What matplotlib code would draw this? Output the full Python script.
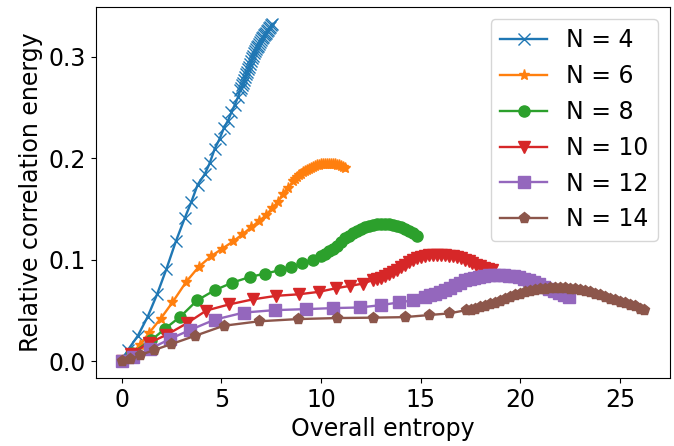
import matplotlib
matplotlib.use("Agg")
import matplotlib.pyplot as plt

# entropia total vs energia de correlacion relativa para cada N
x_n4 = [0, 0.30, 0.80, 1.30, 1.77, 2.24, 2.71, 3.16, 3.49, 3.81, 4.16, 4.41, 4.66, 4.91,
        5.13, 5.33, 5.50, 5.66, 5.83, 5.95, 6.00, 6.05, 6.10, 6.15, 6.20, 6.25, 6.30,
        6.35, 6.40, 6.45, 6.50, 6.55, 6.60, 6.65, 6.70, 6.75, 6.80, 6.85, 6.90, 6.95,
        7.00, 7.05, 7.10, 7.15, 7.20, 7.25, 7.30, 7.35, 7.40, 7.45, 7.50, 7.55]
y_n4 = [0, 0.011, 0.025, 0.044, 0.066, 0.091, 0.118, 0.141, 0.157, 0.174, 0.184, 0.195,
        0.209, 0.219, 0.230, 0.237, 0.245, 0.252, 0.260, 0.267, 0.269, 0.272, 0.274,
        0.277, 0.280, 0.283, 0.285, 0.288, 0.290, 0.293, 0.296, 0.299, 0.301, 0.303,
        0.305, 0.307, 0.309, 0.310, 0.312, 0.314, 0.316, 0.318, 0.319, 0.321, 0.322,
        0.323, 0.325, 0.326, 0.328, 0.329, 0.331, 0.332]

x_n6 = [0, 0.45, 0.90, 1.37, 1.95, 2.54, 3.24, 3.86, 4.49, 5.05, 5.58, 6.05, 6.50, 6.88,
        7.25, 7.55, 7.84, 8.09, 8.34, 8.6, 8.7, 8.8, 8.9, 9.0, 9.1, 9.2, 9.3, 9.4, 9.5,
        9.6, 9.7, 9.8, 9.9, 10.0, 10.1, 10.2, 10.3, 10.4, 10.5, 10.6, 10.7, 10.8, 10.9,
        11.0, 11.1, 11.2]
y_n6 = [0, 0.007, 0.016, 0.028, 0.042, 0.058, 0.0785, 0.093, 0.1036, 0.111, 0.118, 0.125,
        0.132, 0.138, 0.144, 0.151, 0.157, 0.165, 0.171, 0.177, 0.179, 0.181, 0.183,
        0.184, 0.186, 0.187, 0.188, 0.189, 0.190, 0.191, 0.192, 0.193, 0.193, 0.194,
        0.194, 0.194, 0.194, 0.194, 0.194, 0.194, 0.194, 0.193, 0.193, 0.192, 0.191,
        0.190]

x_n8 = [0, 0.50, 1.49, 2.16, 2.94, 3.78, 4.66, 5.55, 6.42, 7.17, 7.92, 8.51, 9.06, 9.59,
        10.0, 10.2, 10.4, 10.6, 10.8, 11.0, 11.2, 11.4, 11.6, 11.8, 12.0, 12.2, 12.4,
        12.6, 12.8, 13.0, 13.2, 13.4, 13.6, 13.8, 14.0, 14.2, 14.4, 14.6, 14.8]
y_n8 = [0, 0.008, 0.021, 0.032, 0.044, 0.060, 0.070, 0.0775, 0.083, 0.0863, 0.0896,
        0.093, 0.0964, 0.100, 0.1036, 0.106, 0.109, 0.111, 0.114, 0.117, 0.121, 0.123,
        0.126, 0.128, 0.130, 0.132, 0.133, 0.134, 0.135, 0.135, 0.135, 0.135, 0.134,
        0.133, 0.132, 0.130, 0.128, 0.126, 0.123]

x_n10 = [0, 0.45, 1.35, 2.24, 3.27, 4.24, 5.38, 6.58, 7.75, 8.89, 9.89, 10.76, 11.46,
         12.10, 12.60, 12.80, 13.01, 13.20, 13.4, 13.6, 13.8, 14.0, 14.2, 14.4, 14.6,
         14.8, 15.0, 15.2, 15.4, 15.6, 15.8, 16.0, 16.2, 16.4, 16.6, 16.8, 17.0, 17.2,
         17.4, 17.6, 17.8, 18.0, 18.2, 18.4, 18.6]
y_n10 = [0, 0.007, 0.018, 0.026, 0.0375, 0.050, 0.056, 0.061, 0.0645, 0.066, 0.0684,
         0.072, 0.0743, 0.0765, 0.080, 0.081, 0.0824, 0.084, 0.0856, 0.088, 0.090, 0.093,
         0.095, 0.098, 0.100, 0.102, 0.103, 0.104, 0.105, 0.105, 0.105, 0.105, 0.105,
         0.104, 0.104, 0.103, 0.102, 0.100, 0.099, 0.097, 0.095, 0.094, 0.092, 0.091,
         0.090]

x_n12 = [0, 0.57, 1.40, 2.41, 3.44, 4.66, 6.12, 7.67, 9.26, 10.59, 11.93, 13.00, 13.90,
         14.60, 15.2, 15.45, 15.7, 15.95, 16.2, 16.45, 16.7, 16.95, 17.2, 17.45, 17.7,
         17.95, 18.2, 18.45, 18.7, 18.95, 19.2, 19.45, 19.7, 19.95, 20.2, 20.45, 20.7,
         20.95, 21.2, 21.45, 21.7, 21.95, 22.2, 22.45]
y_n12 = [0, 0.004, 0.012, 0.022, 0.031, 0.041, 0.048, 0.0504, 0.0514, 0.0524, 0.053,
         0.0553, 0.058, 0.060, 0.0635, 0.065, 0.066, 0.068, 0.070, 0.0725, 0.075, 0.0775,
         0.080, 0.081, 0.082, 0.083, 0.084, 0.085, 0.085, 0.085, 0.085, 0.084, 0.084,
         0.083, 0.081, 0.080, 0.078, 0.076, 0.073, 0.071, 0.069, 0.067, 0.065, 0.063]

x_n14 = [0, 0.40, 0.90, 1.60, 2.49, 3.66, 5.11, 6.88, 8.84, 10.79, 12.63, 14.19, 15.44,
         16.44, 17.28, 17.5, 17.75, 18.0, 18.25, 18.5, 18.75, 19.0, 19.25, 19.5, 19.75,
         20.0, 20.25, 20.5, 20.75, 21.0, 21.25, 21.5, 21.75, 22.0, 22.25, 22.5, 22.75,
         23.0, 23.25, 23.5, 23.75, 24.0, 24.25, 24.5, 24.75, 25.0, 25.25, 25.5, 25.75,
         26.0, 26.2]
y_n14 = [0, 0.002, 0.006, 0.011, 0.017, 0.025, 0.035, 0.0394, 0.0416, 0.0426, 0.0430,
         0.0435, 0.0456, 0.0472, 0.0504, 0.051, 0.052, 0.053, 0.0545, 0.056, 0.0575,
         0.059, 0.061, 0.063, 0.065, 0.066, 0.068, 0.069, 0.070, 0.071, 0.0715, 0.072,
         0.072, 0.072, 0.072, 0.0715, 0.071, 0.070, 0.069, 0.068, 0.066, 0.065, 0.063,
         0.061, 0.060, 0.058, 0.057, 0.055, 0.054, 0.052, 0.051]

series = [
    ("N = 4", x_n4, y_n4, "x"),
    ("N = 6", x_n6, y_n6, "*"),
    ("N = 8", x_n8, y_n8, "o"),
    ("N = 10", x_n10, y_n10, "v"),
    ("N = 12", x_n12, y_n12, "s"),
    ("N = 14", x_n14, y_n14, "p"),
]

fig, ax = plt.subplots(figsize=(6.74, 4.46), dpi=100)
fig.subplots_adjust(left=0.142, right=0.994, top=0.984, bottom=0.152)

for label, xs, ys, mk in series:
    ax.plot(xs, ys, marker=mk, markersize=8, linewidth=1.7, label=label)

ax.set_xlabel("Overall entropy", fontsize=17)
ax.set_ylabel("Relative correlation energy", fontsize=17)
ax.tick_params(labelsize=17)
ax.legend(loc="upper right", fontsize=17)

fig.savefig("out.png", dpi=100)
